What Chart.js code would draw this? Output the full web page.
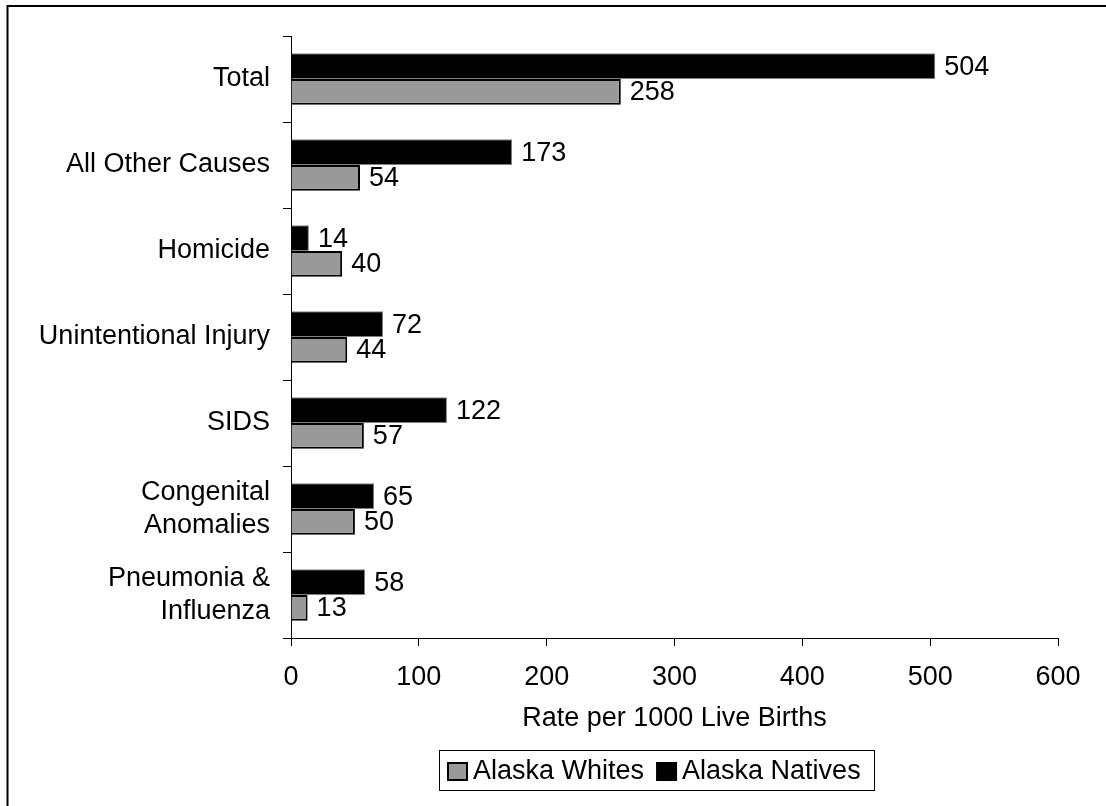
<!DOCTYPE html>
<html>
<head>
<meta charset="utf-8">
<script src="https://cdn.jsdelivr.net/npm/chart.js@4"></script>
<style>
  html, body { margin: 0; padding: 0; background: #fff; }
</style>
</head>
<body>
<canvas id="myChart" width="1106" height="806"></canvas>
<script>
// Dados do gráfico
const causes = ['Total', 'All Other Causes', 'Homicide', 'Unintentional Injury', 'SIDS',
    ['Congenital', 'Anomalies'], ['Pneumonia &', 'Influenza']];
const alaskaNatives = [504, 173, 14, 72, 122, 65, 58];
const alaskaWhites = [258, 54, 40, 44, 57, 50, 13];
const rateTicks = [0, 100, 200, 300, 400, 500, 600];

const FONT = '"Liberation Sans", Arial, sans-serif';
const FSIZE = 27;

// moldura (linha em cima e à esquerda)
const frame = {
    id: 'frame',
    beforeDraw(chart) {
        const c = chart.ctx;
        c.save();
        c.fillStyle = '#fff';
        c.fillRect(0, 0, chart.width, chart.height);
        c.strokeStyle = '#000';
        c.lineWidth = 2;
        c.beginPath();
        c.moveTo(7.5, chart.height);
        c.lineTo(7.5, 6);
        c.lineTo(chart.width, 6);
        c.stroke();
        c.restore();
    }
};

// valores ao lado das barras
const valueLabels = {
    id: 'valueLabels',
    afterDatasetsDraw(chart) {
        const c = chart.ctx;
        c.save();
        c.font = FSIZE + 'px ' + FONT;
        c.fillStyle = '#000';
        c.textAlign = 'left';
        c.textBaseline = 'middle';
        chart.data.datasets.forEach((ds, i) => {
            chart.getDatasetMeta(i).data.forEach((bar, j) => {
                c.fillText(String(ds.data[j]), bar.x + 9, bar.y + 1);
            });
        });
        c.restore();
    }
};

// legenda com caixa
const boxLegend = {
    id: 'boxLegend',
    afterDraw(chart) {
        const c = chart.ctx;
        c.save();
        c.font = FSIZE + 'px ' + FONT;
        c.textBaseline = 'middle';
        const items = chart.data.datasets.slice().reverse();
        let x = 448;
        const y = 771;
        items.forEach(ds => {
            c.fillStyle = ds.backgroundColor;
            c.fillRect(x, y - 8, 19, 17);
            c.strokeStyle = '#000';
            c.lineWidth = 2;
            c.strokeRect(x, y - 8, 19, 17);
            c.fillStyle = '#000';
            c.fillText(ds.label, x + 25, y + 1);
            x += 25 + c.measureText(ds.label).width + 13;
        });
        c.strokeStyle = '#000';
        c.lineWidth = 1;
        c.strokeRect(439.5, 750.5, 435, 40);
        c.restore();
    }
};

const data = {
    labels: causes,
    datasets: [{
        label: 'Alaska Natives',
        data: alaskaNatives,
        backgroundColor: '#000000',
        borderColor: '#808080',
        borderWidth: 1,
        categoryPercentage: 0.6,
        barPercentage: 1
    }, {
        label: 'Alaska Whites',
        data: alaskaWhites,
        backgroundColor: '#999999',
        borderColor: '#000000',
        borderWidth: 2,
        categoryPercentage: 0.6,
        barPercentage: 1
    }]
};

const options = {
    indexAxis: 'y',
    responsive: false,
    animation: false,
    devicePixelRatio: 1,
    layout: { padding: { top: 36, right: 48, bottom: 71, left: 0 } },
    plugins: {
        legend: { display: false },
        tooltip: { enabled: false }
    },
    scales: {
        x: {
            min: rateTicks[0],
            max: rateTicks[rateTicks.length - 1],
            ticks: {
                stepSize: rateTicks[1] - rateTicks[0],
                color: '#000',
                padding: 15,
                font: { family: FONT, size: FSIZE }
            },
            grid: { drawOnChartArea: false, tickLength: 8, color: '#000' },
            border: { color: '#000', width: 1 },
            title: {
                display: true,
                text: 'Rate per 1000 Live Births',
                color: '#000',
                padding: 0,
                font: { family: FONT, size: FSIZE }
            },
            afterFit(scale) {
                scale.height = 97;
                scale.paddingLeft = 0;
                scale.paddingRight = 0;
            }
        },
        y: {
            ticks: {
                color: '#000',
                padding: 13,
                font: { family: FONT, size: FSIZE }
            },
            grid: { drawOnChartArea: false, tickLength: 8, color: '#000' },
            border: { color: '#000', width: 1 },
            afterFit(scale) {
                scale.width = 291;
                scale.paddingTop = 0;
                scale.paddingBottom = 0;
            }
        }
    }
};

const ctx = document.getElementById('myChart').getContext('2d');
const myChart = new Chart(ctx, {
    type: 'bar',
    data: data,
    options: options,
    plugins: [frame, valueLabels, boxLegend]
});
</script>
</body>
</html>
